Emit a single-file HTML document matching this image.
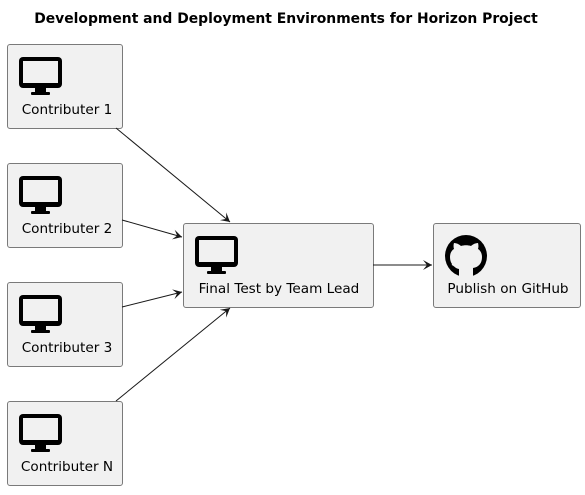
<!DOCTYPE html>
<html><head><style>body{margin:0;background:#fff}</style></head><body>
<svg width="585" height="490" xmlns="http://www.w3.org/2000/svg" font-family="DejaVu Sans, sans-serif">
<defs>
<marker id="a" markerWidth="10" markerHeight="10" refX="9" refY="5" orient="auto" markerUnits="userSpaceOnUse"><path d="M0,0 L9,5 L0,10 L4,5 Z" fill="#181818"/></marker>
<g id="mon"><rect x="0" y="0" width="43" height="31" rx="4" fill="#000"/><rect x="4" y="4" width="35" height="22" fill="#f1f1f1"/><rect x="16" y="31" width="11" height="5" fill="#000"/><rect x="12" y="35" width="19" height="3" rx="1" fill="#000"/></g>
</defs>
<text x="286" y="23" text-anchor="middle" font-size="13.9" font-weight="bold">Development and Deployment Environments for Horizon Project</text>
<g fill="#f1f1f1" stroke="#7a7a7a" stroke-width="1">
<rect x="7.5" y="44.5" width="115" height="84" rx="2.5"/>
<rect x="7.5" y="163.5" width="115" height="84" rx="2.5"/>
<rect x="7.5" y="282.5" width="115" height="84" rx="2.5"/>
<rect x="7.5" y="401.5" width="115" height="84" rx="2.5"/>
<rect x="183.5" y="223.5" width="190" height="84" rx="2.5"/>
<rect x="433.5" y="223.5" width="147" height="84" rx="2.5"/>
</g>
<use href="#mon" x="19" y="57"/><use href="#mon" x="19" y="176"/><use href="#mon" x="19" y="295"/><use href="#mon" x="19" y="414"/><use href="#mon" x="195" y="236"/>
<g transform="translate(466,256)"><circle r="21" fill="#000"/><path d="M-7,21 L-7,12 C-13,11 -16,7 -16,1 C-16,-3 -14,-6 -12,-7 C-13,-10 -12,-13 -12,-13 C-9,-13 -6,-11 -5,-10 C-2,-11 2,-11 5,-10 C6,-11 9,-13 12,-13 C12,-13 13,-10 12,-7 C14,-6 16,-3 16,1 C16,7 13,11 7,12 L7,21 Z" fill="#f1f1f1"/><path d="M-7,12 C-10,12 -11,9 -14,8" stroke="#f1f1f1" stroke-width="2" fill="none"/></g>
<g font-size="13.6" fill="#000" text-anchor="middle">
<text x="67" y="114">Contributer 1</text>
<text x="67" y="233">Contributer 2</text>
<text x="67" y="352">Contributer 3</text>
<text x="67" y="471">Contributer N</text>
<text x="279" y="293">Final Test by Team Lead</text>
<text x="508" y="293">Publish on GitHub</text>
</g>
<g stroke="#181818" stroke-width="1" marker-end="url(#a)">
<line x1="116" y1="128" x2="230" y2="222"/>
<line x1="122" y1="220" x2="182" y2="237"/>
<line x1="122" y1="307" x2="182" y2="292"/>
<line x1="116" y1="401" x2="230" y2="308"/>
<line x1="373" y1="265" x2="432" y2="265"/>
</g>
</svg>
</body></html>
